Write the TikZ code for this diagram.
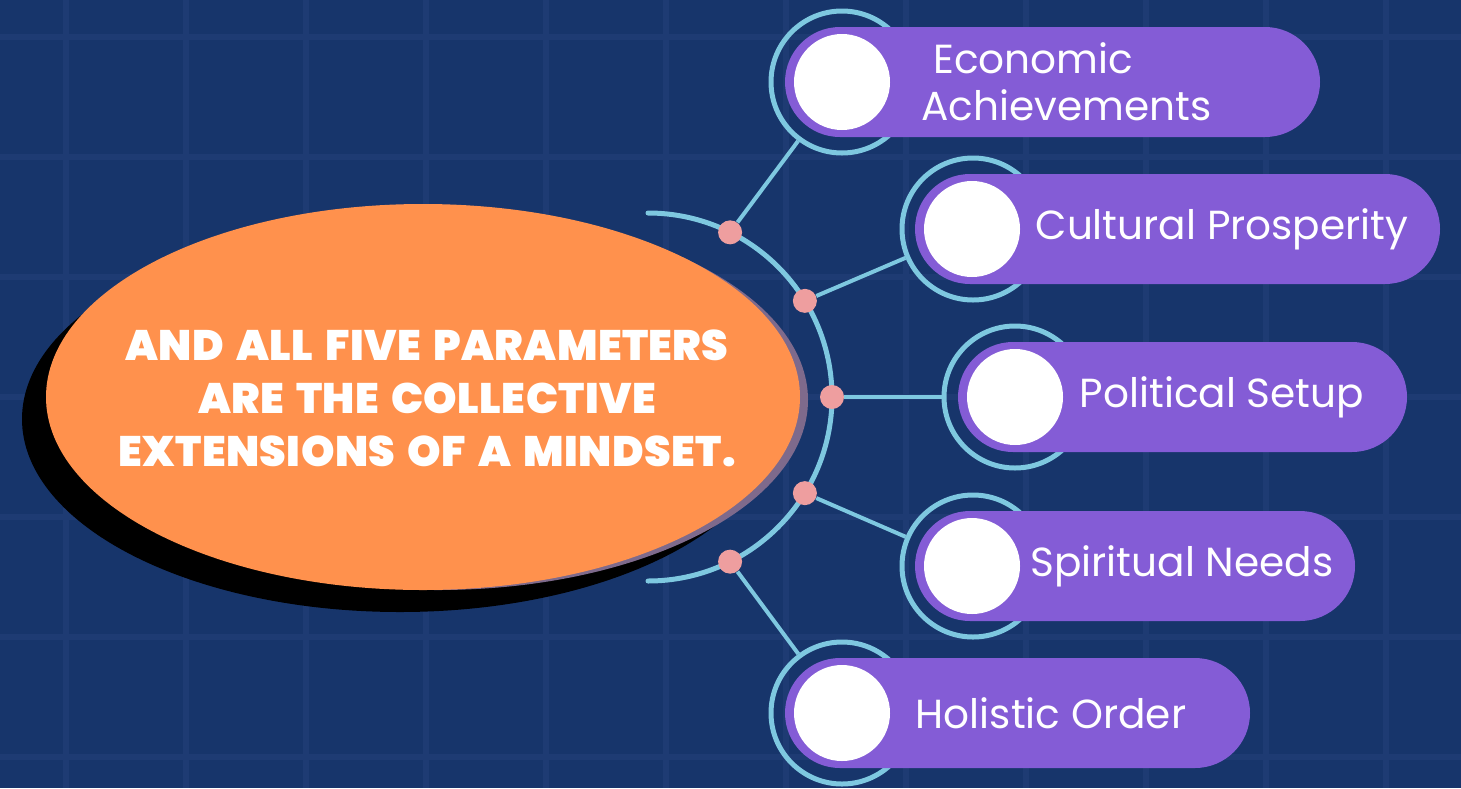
\documentclass[tikz,border=0pt]{standalone}
\usepackage{fontspec}
\setmainfont{Poppins}
\newfontfamily\titlefont{Poppins}[UprightFont={* Black}, WordSpace=1.6, LetterSpace=1]
\usepackage{tikz}
\definecolor{bgblue}{HTML}{17356B}
\definecolor{gridblue}{HTML}{1E3B73}
\definecolor{mindorange}{HTML}{FF914D}
\definecolor{shadowgrey}{HTML}{7E6A8C}
\definecolor{linkblue}{HTML}{7EC8E0}
\definecolor{dotpink}{HTML}{EE9E9F}
\definecolor{pillpurple}{HTML}{845CD6}

\begin{document}
\begin{tikzpicture}[x=0.5pt,y=-0.5pt,
    dot/.style={circle, fill=dotpink, minimum size=12pt, inner sep=0pt},
    ring/.style={circle, draw=linkblue, line width=2.5pt, minimum size=71pt, inner sep=0pt},
    pill/.style={rounded corners=27.5pt, fill=pillpurple, minimum height=55pt, inner sep=0pt},
    hole/.style={circle, fill=white, minimum size=48pt, inner sep=0pt},
    item/.style={text=white, font=\fontsize{20.3}{23.5}\selectfont, align=left, inner sep=0pt},
    link/.style={linkblue, line width=2pt}]
      % Background with a faint grid
      \useasboundingbox (0,0) rectangle (1461,788);
      \fill[bgblue] (0,0) rectangle (1461,788);
      \foreach \x in {66,186,...,1386}
        \draw[gridblue, line width=3pt] (\x,0) -- (\x,788);
      \foreach \y in {37,157,...,757}
        \draw[gridblue, line width=3pt] (0,\y) -- (1461,\y);

      % Central ellipse with its two shadows
      \fill[black] (400,419) ellipse [x radius=378, y radius=193];
      \fill[shadowgrey] (438,400) ellipse [x radius=370, y radius=190];
      \fill[mindorange] (423,397) ellipse [x radius=377, y radius=193];
      \node[text=white, align=center, font=\titlefont\fontsize{21.3}{26.5}\selectfont]
        (mind) at (427,398) {AND ALL FIVE PARAMETERS\\ARE THE COLLECTIVE\\EXTENSIONS OF A MINDSET.};

      % Half circle carrying the five dots
      \draw[link, line width=2.5pt, line cap=round] (648,213) arc [start angle=-90, end angle=90, radius=184];
      \foreach \a/\n in {-63.5/1,-31.5/2,0/3,31.5/4,63.5/5}
        \node[dot] (d\n) at ([shift={(\a:184)}]648,397) {};

      % Rings behind the pills
      \node[ring] (r1) at (842,82) {};
      \node[ring] (r2) at (973,229) {};
      \node[ring] (r3) at (1015,397) {};
      \node[ring] (r4) at (973,566) {};
      \node[ring] (r5) at (842,713) {};

      % Pills
      \node[pill, minimum width=267.5pt] (p1) at (1052.5,82) {};
      \node[pill, minimum width=262.5pt] (p2) at (1177.5,229) {};
      \node[pill, minimum width=224.5pt] (p3) at (1182.5,397) {};
      \node[pill, minimum width=220pt] (p4) at (1135,566) {};
      \node[pill, minimum width=232.5pt] (p5) at (1017.5,713) {};

      % White circles inside the pills
      \node[hole] (h1) at (842,82) {};
      \node[hole] (h2) at (972,229) {};
      \node[hole] (h3) at (1015,397) {};
      \node[hole] (h4) at (972,566) {};
      \node[hole] (h5) at (842,713) {};

      % Labels
      \node[item, anchor=west] (t1) at (921,82) {\hspace*{6pt}Economic\\Achievements};
      \node[item] (t2) at (1222,229) {Cultural Prosperity};
      \node[item] (t3) at (1222,397) {Political Setup};
      \node[item] (t4) at (1182,566) {Spiritual Needs};
      \node[item] (t5) at (1051,713) {Holistic Order};

      % Connect the dots to the rings
      \draw[link] (d1) -- (r1);
      \draw[link] (d2) -- (r2);
      \draw[link] (d3) -- (r3);
      \draw[link] (d4) -- (r4);
      \draw[link] (d5) -- (r5);
    \end{tikzpicture}
\end{document}
